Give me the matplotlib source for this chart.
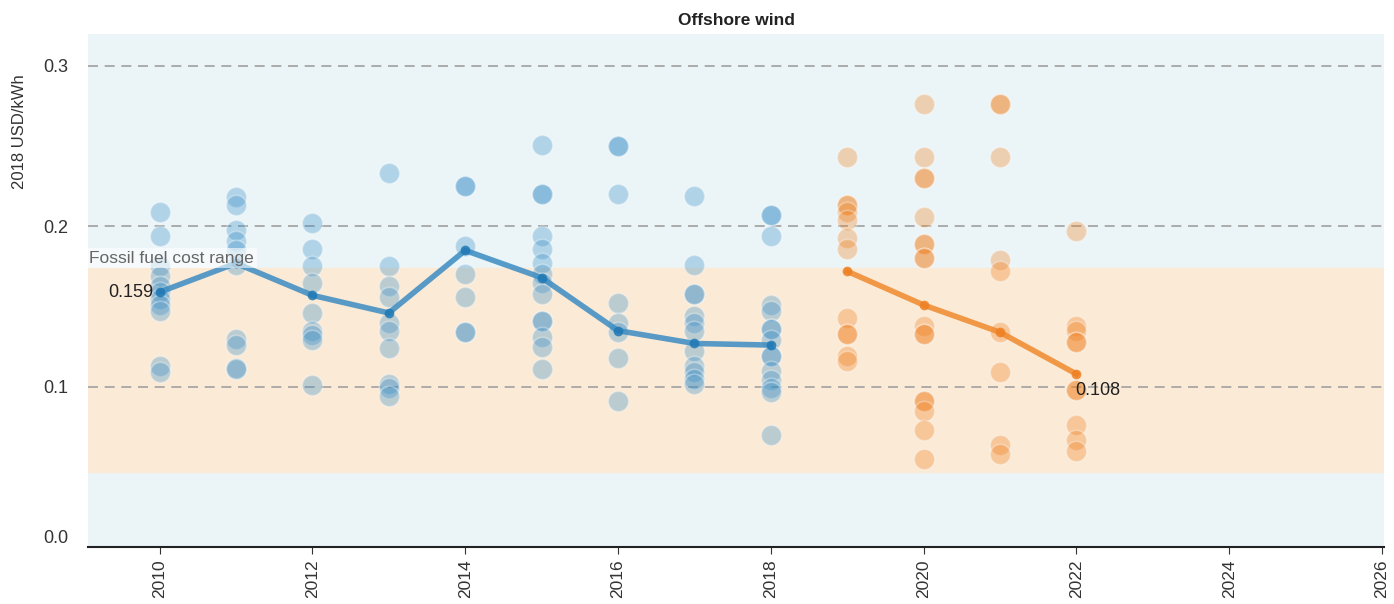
import matplotlib
matplotlib.use("Agg")
import matplotlib.pyplot as plt

plt.rcParams["font.family"] = ["Liberation Sans", "DejaVu Sans"]

# ── data ──
years_hist = [2010, 2011, 2012, 2013, 2014, 2015, 2016, 2017, 2018]
avg_hist = [0.159, 0.177, 0.157, 0.146, 0.185, 0.168, 0.135, 0.127, 0.126]
years_fut = [2019, 2020, 2021, 2022]
avg_fut = [0.172, 0.151, 0.134, 0.108]

projects_hist = {
    2010: [0.209, 0.194, 0.175, 0.169, 0.163, 0.159, 0.155, 0.151, 0.147, 0.113, 0.109],
    2011: [0.218, 0.213, 0.198, 0.191, 0.185, 0.176, 0.130, 0.126, 0.112, 0.111],
    2012: [0.202, 0.186, 0.175, 0.165, 0.146, 0.135, 0.132, 0.129, 0.101],
    2013: [0.233, 0.175, 0.163, 0.156, 0.140, 0.135, 0.124, 0.102, 0.099, 0.094],
    2014: [0.225, 0.225, 0.188, 0.170, 0.156, 0.134, 0.134],
    2015: [0.251, 0.220, 0.220, 0.194, 0.186, 0.177, 0.170, 0.165, 0.158, 0.141, 0.141,
           0.131, 0.125, 0.111],
    2016: [0.250, 0.250, 0.220, 0.152, 0.140, 0.134, 0.118, 0.091],
    2017: [0.219, 0.176, 0.158, 0.158, 0.144, 0.140, 0.135, 0.122, 0.113, 0.109, 0.105, 0.102],
    2018: [0.207, 0.207, 0.194, 0.151, 0.147, 0.136, 0.136, 0.129, 0.119, 0.119, 0.110,
           0.104, 0.099, 0.097, 0.070],
}
projects_fut = {
    2019: [0.243, 0.213, 0.213, 0.209, 0.204, 0.193, 0.186, 0.143, 0.133, 0.133, 0.119, 0.116],
    2020: [0.276, 0.243, 0.230, 0.230, 0.206, 0.189, 0.189, 0.180, 0.180, 0.138, 0.133,
           0.133, 0.091, 0.091, 0.085, 0.073, 0.055],
    2021: [0.276, 0.276, 0.243, 0.179, 0.172, 0.134, 0.109, 0.064, 0.058],
    2022: [0.197, 0.138, 0.135, 0.128, 0.128, 0.098, 0.098, 0.076, 0.067, 0.060],
}

fossil_low, fossil_high = 0.047, 0.174
xticks = [2010, 2012, 2014, 2016, 2018, 2020, 2022, 2024, 2026]
yticks = [0.0, 0.1, 0.2, 0.3]

BLUE = "#3A8FC7"
ORANGE = "#F07F1E"

fig = plt.figure(figsize=(13.94, 6.04), dpi=100)
ax = fig.add_axes([0.063, 0.094, 0.93, 0.85])
ax.set_facecolor("#EBF5F8")

# ── 化石燃料成本范围 ──
ax.axhspan(fossil_low, fossil_high, color="#FBEAD6", zorder=0)
for yv in [0.1, 0.2, 0.3]:
    ax.axhline(yv, color="#A0A0A0", linestyle=(0, (6, 4)), linewidth=1.2, zorder=1)

# ── 项目散点 ──
for yr, vals in projects_hist.items():
    ax.scatter([yr] * len(vals), vals, s=215, color=BLUE, alpha=0.33,
               edgecolors="white", linewidths=1.2, zorder=2)
for yr, vals in projects_fut.items():
    ax.scatter([yr] * len(vals), vals, s=215, color=ORANGE, alpha=0.33,
               edgecolors="white", linewidths=1.2, zorder=2)

# ── 加权平均线 ──
ax.plot(years_hist, avg_hist, color="#3B8CC2", linewidth=4, alpha=0.85,
        marker="o", markersize=7, markerfacecolor="#1F78B4", markeredgewidth=0, zorder=3)
ax.plot(years_fut, avg_fut, color="#F08A2E", linewidth=4, alpha=0.85,
        marker="o", markersize=7, markerfacecolor="#EE7F22", markeredgewidth=0, zorder=3)

ax.text(years_hist[0] - 0.08, avg_hist[0], f"{avg_hist[0]:.3f}", ha="right", va="center",
        fontsize=13, color="#222222", zorder=4)
ax.text(years_fut[-1] - 0.02, avg_fut[-1] - 0.005, f"{avg_fut[-1]:.3f}", ha="left", va="top",
        fontsize=13, color="#222222", zorder=4)
ax.text(2009.08, fossil_high + 0.0015, "Fossil fuel cost range", ha="left", va="bottom",
        fontsize=12.5, color="#666666", zorder=4,
        bbox=dict(boxstyle="square,pad=0.15", facecolor="white", edgecolor="none", alpha=0.6))

ax.set_xlim(2009.06, 2026.03)
ax.set_ylim(0, 0.32)
ax.set_xticks(xticks)
ax.set_xticklabels([str(x) for x in xticks], rotation=90, fontsize=12.5, color="#333333")
ax.set_yticks(yticks)
ax.set_yticklabels([f"{v:.1f}" for v in yticks], fontsize=13, color="#333333")
ax.get_yticklabels()[0].set_va("bottom")
ax.tick_params(axis="y", length=0, pad=14)
ax.tick_params(axis="x", length=5, color="#333333", pad=4)
for side in ["left", "right", "top"]:
    ax.spines[side].set_visible(False)
ax.spines["bottom"].set_color("#222222")
ax.spines["bottom"].set_linewidth(1.5)

ax.set_ylabel("2018 USD/kWh", fontsize=12, color="#333333")
ax.yaxis.set_label_coords(-0.047, 0.81)
ax.set_title("Offshore wind", fontsize=12.5, fontweight="bold", color="#222222", pad=6)

plt.savefig("out.png", dpi=100)
plt.close(fig)
